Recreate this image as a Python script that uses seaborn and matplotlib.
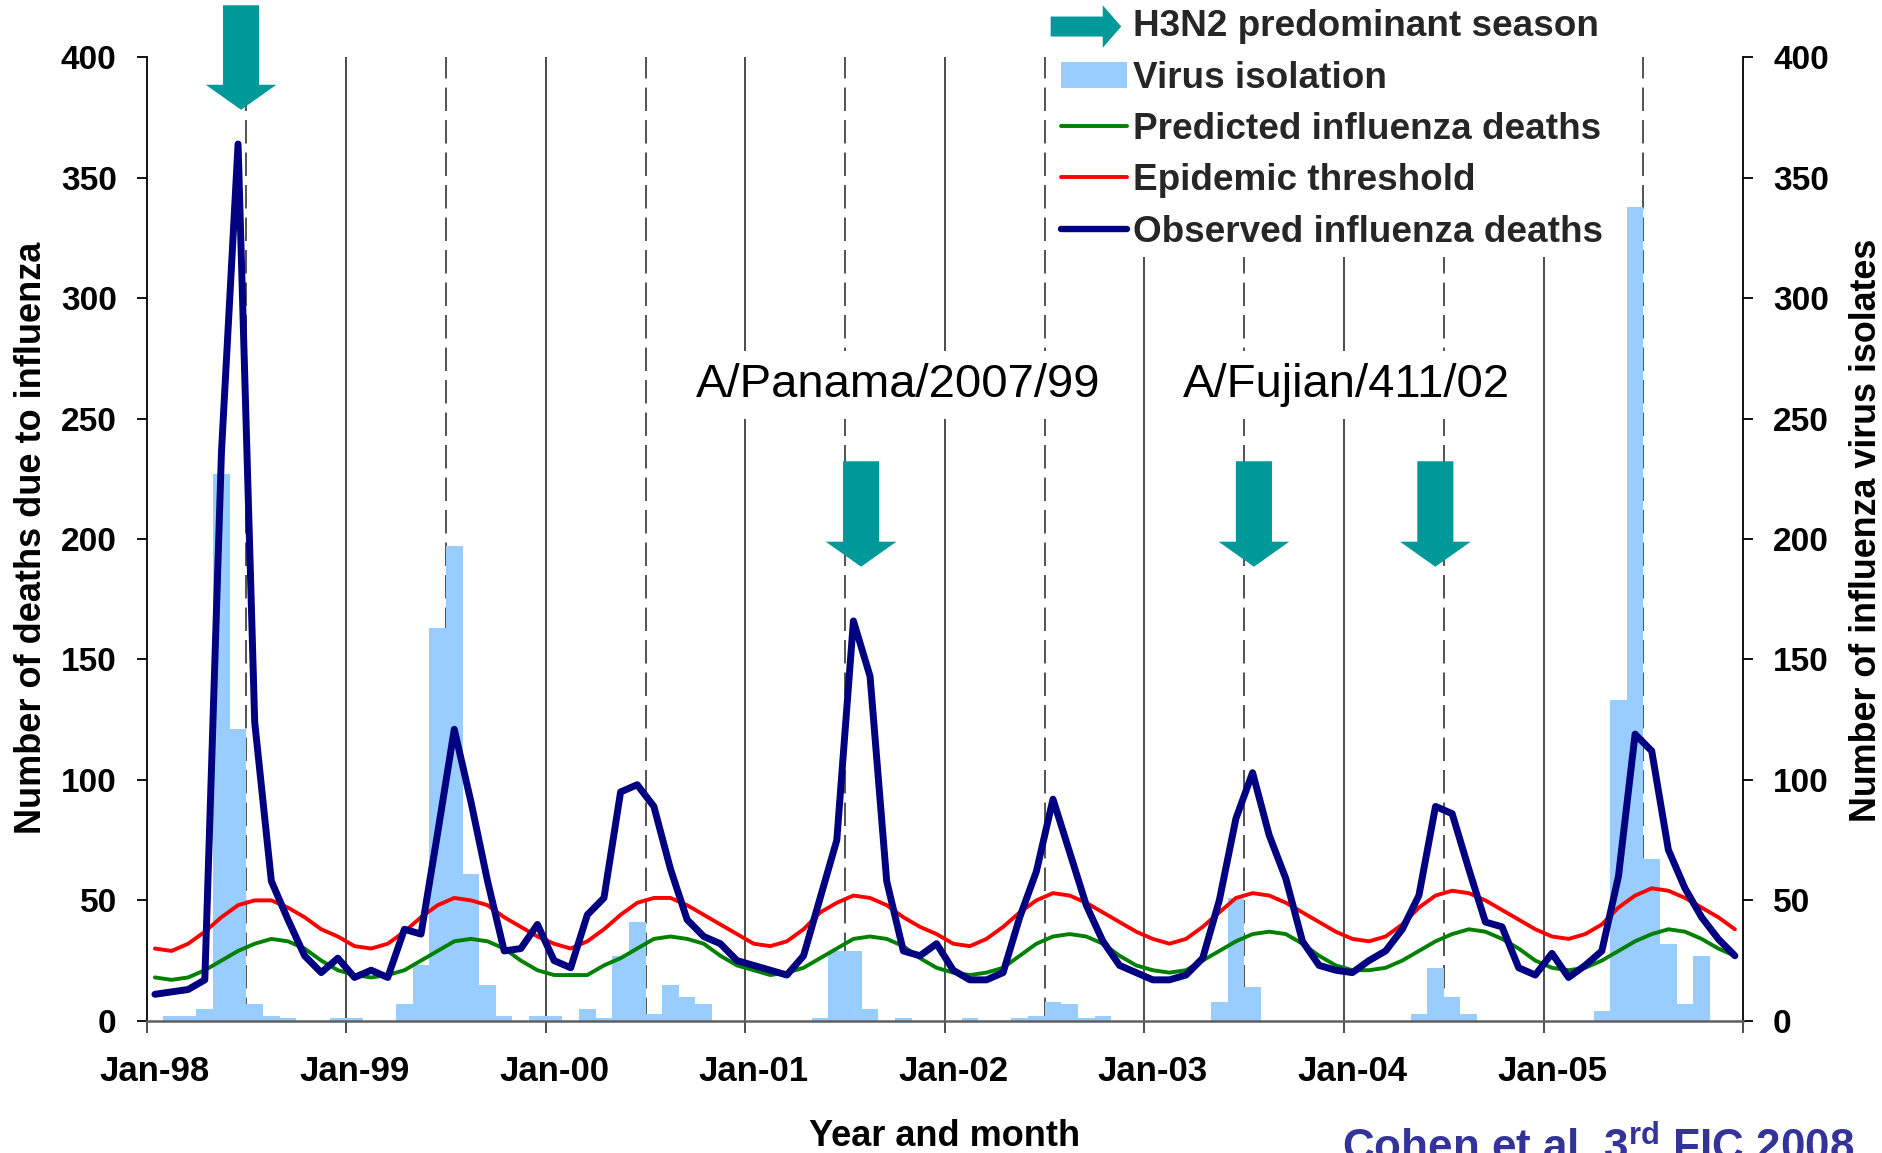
import numpy as np
import pandas as pd
import matplotlib
matplotlib.use("Agg")
import matplotlib.pyplot as plt
import seaborn as sns
from matplotlib.patches import FancyArrow, Rectangle, Patch
from matplotlib.lines import Line2D
from matplotlib.legend_handler import HandlerPatch
from matplotlib import font_manager

# ---------------- data (monthly, Jan-1998 .. Dec-2005) ----------------
observed = [11, 12, 13, 17, 236, 364, 124, 58, 42, 27, 20, 26,
            18, 21, 18, 38, 36, 78, 121, 91, 58, 29, 30, 40,
            25, 22, 44, 51, 95, 98, 89, 63, 42, 35, 32, 25,
            23, 21, 19, 27, 51, 75, 166, 143, 58, 29, 27, 32,
            21, 17, 17, 20, 43, 62, 92, 70, 48, 33, 23, 20,
            17, 17, 19, 26, 50, 84, 103, 77, 59, 33, 23, 21,
            20, 25, 29, 38, 52, 89, 86, 63, 41, 39, 22, 19,
            28, 18, 23, 29, 60, 119, 112, 71, 55, 43, 34, 27]

threshold = [30, 29, 32, 37, 43, 48, 50, 50, 47, 43, 38, 35,
             31, 30, 32, 37, 43, 48, 51, 50, 48, 43, 39, 35,
             32, 30, 33, 38, 44, 49, 51, 51, 48, 44, 40, 36,
             32, 31, 33, 38, 45, 49, 52, 51, 48, 43, 39, 36,
             32, 31, 34, 39, 45, 50, 53, 52, 49, 45, 41, 37,
             34, 32, 34, 39, 45, 51, 53, 52, 49, 45, 41, 37,
             34, 33, 35, 40, 47, 52, 54, 53, 50, 46, 42, 38,
             35, 34, 36, 40, 47, 52, 55, 54, 51, 47, 43, 38]

predicted = [18, 17, 18, 21, 25, 29, 32, 34, 33, 30, 25, 21,
             19, 18, 19, 21, 25, 29, 33, 34, 33, 30, 25, 21,
             19, 19, 19, 23, 26, 30, 34, 35, 34, 32, 27, 23,
             21, 19, 20, 22, 26, 30, 34, 35, 34, 31, 26, 22,
             20, 19, 20, 22, 27, 32, 35, 36, 35, 32, 27, 23,
             21, 20, 21, 25, 29, 33, 36, 37, 36, 32, 27, 23,
             21, 21, 22, 25, 29, 33, 36, 38, 37, 34, 30, 25,
             22, 21, 22, 25, 29, 33, 36, 38, 37, 34, 30, 27]

isolates = [0, 2, 2, 5, 227, 121, 7, 2, 1, 0, 0, 1,
            1, 0, 0, 7, 23, 163, 197, 61, 15, 2, 0, 2,
            2, 0, 5, 1, 27, 41, 3, 15, 10, 7, 0, 0,
            0, 0, 0, 0, 1, 29, 29, 5, 0, 1, 0, 0,
            0, 1, 0, 0, 1, 2, 8, 7, 1, 2, 0, 0,
            0, 0, 0, 0, 8, 51, 14, 0, 0, 0, 0, 0,
            0, 0, 0, 0, 3, 22, 10, 3, 0, 0, 0, 0,
            0, 0, 0, 4, 133, 338, 67, 32, 7, 27, 0, 0]

year_labels = ["Jan-98", "Jan-99", "Jan-00", "Jan-01",
               "Jan-02", "Jan-03", "Jan-04", "Jan-05"]

h3n2_arrow_x = [5.18, 42.46, 66.08, 76.99]
strain_labels = ["A/Panama/2007/99", "A/Fujian/411/02"]
strain_x = [44.69, 71.63]

legend_labels = ["H3N2 predominant season", "Virus isolation",
                 "Predicted influenza deaths", "Epidemic threshold",
                 "Observed influenza deaths"]

n = len(observed)
month_pos = np.arange(n)
df = pd.DataFrame({"month": month_pos, "observed": observed,
                   "threshold": threshold, "predicted": predicted,
                   "isolates": isolates})

# ---------------- style ----------------
TEAL = "#009999"
BAR = "#99CCFF"
GREEN = "#008000"
RED = "#FF0000"
NAVY = "#000080"

sns.set_theme(style="ticks")
plt.rcParams["font.family"] = ["Liberation Sans", "DejaVu Sans"]
plt.rcParams["mathtext.fontset"] = "custom"
plt.rcParams["mathtext.rm"] = "Liberation Sans:bold"
plt.rcParams["mathtext.it"] = "Liberation Sans:bold:italic"
plt.rcParams["mathtext.bf"] = "Liberation Sans:bold"

W, H = 1883, 1153
fig = plt.figure(figsize=(W / 100, H / 100), dpi=100)
fig.patch.set_facecolor("white")


def fx(px):
    return px / W


def fy(py):
    return 1 - py / H


AX_L, AX_R, AX_T, AX_B = 146.6, 1743.2, 57.3, 1020.8
ax = fig.add_axes([fx(AX_L), fy(AX_B), (AX_R - AX_L) / W, (AX_B - AX_T) / H])
ax2 = ax.twinx()
ax.set_zorder(ax2.get_zorder() + 1)
ax.patch.set_visible(False)

# vertical separators (year: solid, mid-year: dashed)
for b in range(12, n, 12):
    ax2.axvline(b - 0.5, color="#2e2e2e", lw=1.2, zorder=0.5)
for b in range(6, n, 12):
    ax2.axvline(b - 0.5, color="#444444", lw=1.3, dashes=(13, 5), zorder=0.5)

# bars (right axis)
sns.barplot(data=df, x="month", y="isolates", ax=ax2, native_scale=True,
            width=1.0, color=BAR, saturation=1, errorbar=None,
            edgecolor="none", linewidth=0, zorder=1)

# lines (left axis)
sns.lineplot(data=df, x="month", y="predicted", ax=ax, color=GREEN, lw=2.8,
             zorder=3, legend=False)
sns.lineplot(data=df, x="month", y="threshold", ax=ax, color=RED, lw=2.8,
             zorder=3, legend=False)
sns.lineplot(data=df, x="month", y="observed", ax=ax, color=NAVY, lw=5.0,
             zorder=4, legend=False, solid_joinstyle="round",
             solid_capstyle="round")

ax.set_xlim(-0.5, n - 0.5)
ax.set_ylim(0, 400)
ax2.set_ylim(0, 400)

# x ticks: labels at January centres, tick marks at year boundaries
ax.set_xticks(month_pos[::12], year_labels)
ax.set_xticks(np.arange(-0.5, n, 12), minor=True)
ax.tick_params(axis="x", which="major", length=0, pad=24.8, labelsize=25,
               labelcolor="black")
ax.tick_params(axis="x", which="minor", length=8.5, width=1.2,
               color="#2e2e2e", direction="out")
for t in ax.get_xticklabels():
    t.set_fontweight("bold")

yt = np.arange(0, 401, 50)
ax.set_yticks(yt)
ax2.set_yticks(yt)
for a in (ax, ax2):
    a.tick_params(axis="y", length=7.5, width=1.3, pad=14, labelsize=24,
                  colors="black", direction="out")
    for t in a.get_yticklabels():
        t.set_fontweight("bold")

ax.spines["top"].set_visible(False)
ax.spines["right"].set_visible(False)
ax2.spines["top"].set_visible(False)
ax2.spines["left"].set_visible(False)
ax2.spines["bottom"].set_visible(False)
ax.spines["left"].set_color("black")
ax.spines["left"].set_linewidth(1.3)
ax2.spines["right"].set_color("black")
ax2.spines["right"].set_linewidth(1.3)
ax.spines["bottom"].set_color("#606060")
ax.spines["bottom"].set_linewidth(1.8)

# H3N2 arrows
SHAFT_W, HEAD_W = 2.17, 4.25
arrow_tops = [421.6, 232.3, 232.3, 232.3]
arrow_tips = [378.2, 188.5, 188.5, 188.5]
for x, top, tip in zip(h3n2_arrow_x, arrow_tops, arrow_tips):
    ax.add_patch(FancyArrow(x, top, 0, tip - top, width=SHAFT_W,
                            head_width=HEAD_W, head_length=10.4,
                            length_includes_head=True, color=TEAL, lw=0,
                            zorder=5, clip_on=False))

# strain names
for lab, x in zip(strain_labels, strain_x):
    ax.text(x, 259, lab, ha="center", va="baseline", fontsize=34,
            color="black", zorder=6,
            bbox=dict(boxstyle="square,pad=0.25", fc="white", ec="none"))

# legend background
ax.add_patch(Rectangle((fx(1048), fy(257)), (1612 - 1048) / W, 257 / H,
                       transform=fig.transFigure, facecolor="white",
                       edgecolor="none", zorder=7, clip_on=False))


class HandlerArrow(HandlerPatch):
    def create_artists(self, legend, orig_handle, xdescent, ydescent,
                       width, height, fontsize, trans):
        x0 = -xdescent - 0.28 * fontsize
        x1 = -xdescent + width - 0.17 * fontsize
        yc = -ydescent + height / 2 - 0.08 * fontsize
        p = FancyArrow(x0, yc, x1 - x0, 0, width=0.54 * fontsize,
                       head_width=1.15 * fontsize, head_length=0.5 * fontsize,
                       length_includes_head=True, color=TEAL, linewidth=0)
        p.set_transform(trans)
        return [p]


handles = [FancyArrow(0, 0, 1, 0, color=TEAL),
           Patch(facecolor=BAR, edgecolor="none"),
           Line2D([], [], color=GREEN, lw=2.8, solid_capstyle="round"),
           Line2D([], [], color=RED, lw=2.8, solid_capstyle="round"),
           Line2D([], [], color=NAVY, lw=4.6, solid_capstyle="round")]
leg = ax.legend(handles, legend_labels, handler_map={FancyArrow: HandlerArrow()},
                loc="upper left", bbox_to_anchor=(fx(1061), fy(9.5)),
                bbox_transform=fig.transFigure, frameon=False,
                prop={"weight": "bold", "size": 26.6}, handlelength=1.8,
                handleheight=0.7, handletextpad=0.14, labelspacing=0.44,
                borderpad=0, borderaxespad=0)
leg.set_zorder(8)

# axis labels
ax.set_xlabel("Year and month", fontsize=26, fontweight="bold", color="black")
ax.xaxis.set_label_coords(0.5, (AX_B - 1146) / (AX_B - AX_T))
ax.xaxis.label.set_verticalalignment("baseline")

ax.set_ylabel("Number of deaths due to influenza", fontsize=26,
              fontweight="bold", color="black")
ax.yaxis.set_label_coords((41.5 - AX_L) / (AX_R - AX_L),
                          (AX_B - 537.5) / (AX_B - AX_T))
ax.yaxis.label.set_verticalalignment("baseline")

try:
    font_manager.findfont(font_manager.FontProperties(
        family="Liberation Sans Narrow", weight="bold"),
        fallback_to_default=False)
    rfam, rsize = ["Liberation Sans Narrow"], 31.5
except Exception:
    rfam, rsize = ["Liberation Sans"], 25.8
ax2.set_ylabel("Number of influenza virus isolates", fontsize=rsize,
               fontweight="bold", family=rfam, color="black")
ax2.yaxis.set_label_coords((1876 - AX_L) / (AX_R - AX_L),
                           (AX_B - 530) / (AX_B - AX_T))
ax2.yaxis.label.set_verticalalignment("baseline")

fig.text(fx(1598), fy(1161), r"Cohen et al. 3$^{\rm rd}$ FIC 2008",
         ha="center", va="baseline", fontsize=31.7, fontweight="bold",
         color="#333399")

fig.savefig("out.png", dpi=100)
